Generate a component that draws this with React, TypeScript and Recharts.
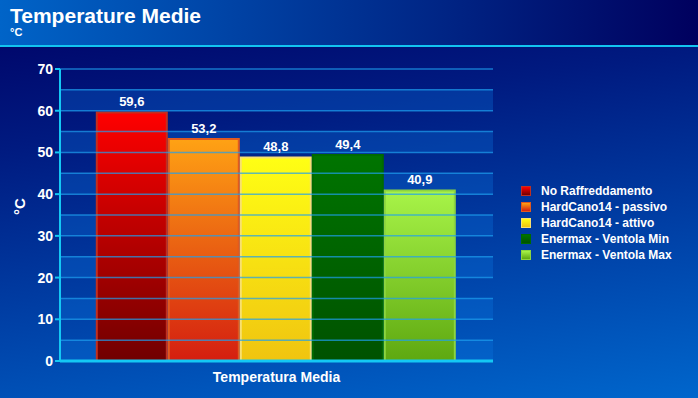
import { BarChart, Bar, XAxis, YAxis, ReferenceLine, ReferenceArea, LabelList } from 'recharts'

const category = 'Temperatura Media'
const seriesNames = [
  'No Raffreddamento',
  'HardCano14 - passivo',
  'HardCano14 - attivo',
  'Enermax - Ventola Min',
  'Enermax - Ventola Max',
]
const seriesValues = [59.6, 53.2, 48.8, 49.4, 40.9]
const yTicks = [0, 10, 20, 30, 40, 50, 60, 70]
const gridLines = [5, 10, 15, 20, 25, 30, 35, 40, 45, 50, 55, 60, 65, 70]
// lighter stripes: [from, to]
const bands = [
  [0, 5],
  [10, 15],
  [20, 25],
  [30, 35],
  [40, 45],
  [50, 55],
  [60, 65],
]

// top colour, bottom colour, border
const barStyles = [
  { top: '#ff0000', bottom: '#700000', stroke: '#c03020' },
  { top: '#ffa214', bottom: '#d41e10', stroke: '#e05a20' },
  { top: '#ffff14', bottom: '#f0c410', stroke: '#f8e070' },
  { top: '#007400', bottom: '#005200', stroke: '#006a00' },
  { top: '#a8f448', bottom: '#5ea810', stroke: '#8cd440' },
]

const font = '"Liberation Sans", Arial, sans-serif'

const row: { [key: string]: string | number } = { name: category }
seriesNames.forEach((n, i) => {
  row['s' + i] = seriesValues[i]
})
const data = [row]

const fmt = (v: any) => Number(v).toFixed(1).replace('.', ',')

export default function App() {
  return (
    <div
      style={{
        position: 'absolute',
        left: 0,
        top: 0,
        width: 698,
        height: 398,
        overflow: 'hidden',
        fontFamily: font,
        background: 'linear-gradient(172deg, #000064 0%, #001a80 30%, #0066cc 100%)',
      }}
    >
      <div
        style={{
          position: 'absolute',
          left: 0,
          top: 0,
          width: 698,
          height: 45,
          background: 'linear-gradient(to right, #0064c8, #00005e)',
          borderBottom: '2px solid #12c4f0',
        }}
      >
        <div style={{ position: 'absolute', left: 10, top: 4, color: '#fff', fontWeight: 'bold', fontSize: 21 }}>
          Temperature Medie
        </div>
        <div style={{ position: 'absolute', left: 10, top: 26, color: '#fff', fontWeight: 'bold', fontSize: 11 }}>
          °C
        </div>
      </div>

      <div style={{ position: 'absolute', left: 0, top: 0 }}>
        <BarChart
          width={698}
          height={398}
          data={data}
          margin={{ top: 69, right: 205, bottom: 7, left: 0 }}
          barCategoryGap="8.5%"
          barGap={2}
        >
          <defs>
            {barStyles.map((s, i) => (
              <linearGradient key={i} id={'grad' + i} x1="0" y1="0" x2="0" y2="1">
                <stop offset="0%" stopColor={s.top} />
                <stop offset="100%" stopColor={s.bottom} />
              </linearGradient>
            ))}
          </defs>
          <XAxis
            dataKey="name"
            tickLine={false}
            axisLine={{ stroke: '#14c8f4', strokeWidth: 3 }}
            tick={{ fill: '#fff', fontWeight: 'bold', fontSize: 14, fontFamily: font }}
            tickMargin={5}
            height={30}
          />
          <YAxis
            width={60}
            domain={[0, 70]}
            ticks={yTicks}
            tickSize={5}
            axisLine={{ stroke: '#14c8f4', strokeWidth: 2 }}
            tickLine={{ stroke: '#14c8f4', strokeWidth: 2 }}
            tick={{ fill: '#fff', fontWeight: 'bold', fontSize: 14, fontFamily: font }}
            label={{
              value: '°C',
              angle: -90,
              position: 'insideLeft',
              offset: 20,
              fill: '#fff',
              fontWeight: 'bold',
              fontSize: 15,
              fontFamily: font,
            }}
          />
          {bands.map(([a, b]) => (
            <ReferenceArea key={'b' + a} y1={a} y2={b} fill="#0a78e0" fillOpacity={0.3} stroke="none" />
          ))}
          {gridLines.map(v => (
            <ReferenceLine key={'g' + v} y={v} stroke="#1ea0f0" strokeOpacity={0.7} strokeWidth={1.5} />
          ))}
          {seriesNames.map((n, i) => (
            <Bar
              key={n}
              dataKey={'s' + i}
              name={n}
              fill={`url(#grad${i})`}
              stroke={barStyles[i].stroke}
              strokeWidth={2}
              isAnimationActive={false}
            >
              <LabelList
                dataKey={'s' + i}
                position="top"
                offset={6}
                formatter={fmt}
                fill="#fff"
                fontWeight="bold"
                fontSize={13}
                fontFamily={font}
              />
            </Bar>
          ))}
        </BarChart>
      </div>

      <div style={{ position: 'absolute', left: 521, top: 183 }}>
        {seriesNames.map((n, i) => (
          <div key={n} style={{ display: 'flex', alignItems: 'center', height: 16 }}>
            <div
              style={{
                width: 8,
                height: 8,
                background: `linear-gradient(${barStyles[i].top}, ${barStyles[i].bottom})`,
                border: '1px solid ' + barStyles[i].stroke,
                marginRight: 10,
              }}
            />
            <span style={{ color: '#fff', fontWeight: 'bold', fontSize: 12 }}>{n}</span>
          </div>
        ))}
      </div>
    </div>
  )
}
